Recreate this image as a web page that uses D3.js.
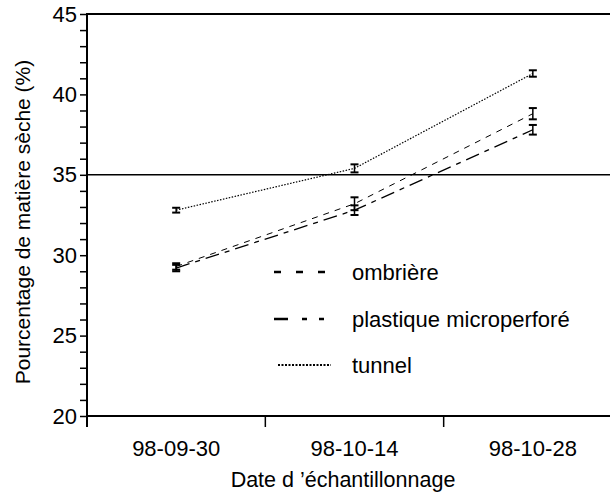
<!DOCTYPE html>
<html><head><meta charset="utf-8">
<script src="https://cdn.jsdelivr.net/npm/d3@7"></script>
<style>body{margin:0;background:#fff}svg{display:block}text{font-family:"Liberation Sans",Arial,sans-serif;fill:#000}</style>
</head><body><svg id="c" width="610" height="493"></svg>
<script>
const dates = ["98-09-30","98-10-14","98-10-28"];
const seriesNames = ["ombrière","plastique microperforé","tunnel"];
const ombriere = [29.3, 33.2, 38.8];
const ombriereErr = [0.2, 0.4, 0.35];
const plastique = [29.2, 32.8, 37.8];
const plastiqueErr = [0.2, 0.3, 0.3];
const tunnel = [32.8, 35.4, 41.3];
const tunnelErr = [0.15, 0.25, 0.2];
const yTicks = [20,25,30,35,40,45];
const refValue = 35;

const svg = d3.select("#c");
const L=87, R=622, T=14, B=416;
const x = d3.scaleBand().domain(dates).range([L,R]);
const y = d3.scaleLinear().domain([20,45]).range([B,T]);
const cx = d => x(d)+x.bandwidth()/2;

svg.append("line").attr("x1",L).attr("x2",610).attr("y1",T).attr("y2",T).attr("stroke","#000").attr("stroke-width",2);
svg.append("line").attr("x1",L).attr("x2",610).attr("y1",y(refValue)).attr("y2",y(refValue)).attr("stroke","#000").attr("stroke-width",1.5);

const yAxis = d3.axisLeft(y).tickValues(d3.range(20,46,1)).tickSize(7).tickFormat(d=>yTicks.includes(d)?d:"");
const gy = svg.append("g").attr("transform",`translate(${L},0)`).call(yAxis);
gy.select(".domain").remove();
gy.selectAll(".tick line").attr("stroke","#000").attr("stroke-width",1.5);
gy.selectAll(".tick text").attr("font-size",22).attr("x",-10);
svg.append("line").attr("x1",L).attr("x2",L).attr("y1",T-1).attr("y2",B+11).attr("stroke","#000").attr("stroke-width",2);

const gx = svg.append("g").attr("transform",`translate(0,${B})`).call(d3.axisBottom(x).tickSize(0).tickPadding(24));
gx.select(".domain").remove();
gx.selectAll(".tick text").attr("font-size",22);
svg.append("line").attr("x1",L).attr("x2",610).attr("y1",B).attr("y2",B).attr("stroke","#000").attr("stroke-width",2);
svg.selectAll(".xb").data(dates.slice(1)).enter().append("line")
  .attr("x1",d=>x(d)).attr("x2",d=>x(d)).attr("y1",B).attr("y2",B+11).attr("stroke","#000").attr("stroke-width",1.5);

svg.append("text").attr("x",343).attr("y",487).attr("text-anchor","middle").attr("font-size",21.5).text("Date d ’échantillonnage");
svg.append("text").attr("transform",`translate(30,222) rotate(-90)`).attr("text-anchor","middle").attr("font-size",21).text("Pourcentage de matière sèche (%)");

const series = [
  {name:seriesNames[0], v:ombriere, e:ombriereErr, dash:"6,6", w:1},
  {name:seriesNames[1], v:plastique, e:plastiqueErr, dash:"14,6,5,6", w:1.3},
  {name:seriesNames[2], v:tunnel, e:tunnelErr, dash:"1.5,1.5", w:1.2}
];
const line = d3.line().x((d,i)=>cx(dates[i])).y(d=>y(d));
series.forEach(s=>{
  svg.append("path").datum(s.v).attr("d",line).attr("fill","none").attr("stroke","#000")
    .attr("stroke-width",s.w).attr("stroke-dasharray",s.dash);
  const g = svg.append("g");
  s.v.forEach((v,i)=>{
    const xc=cx(dates[i]);
    g.append("line").attr("x1",xc).attr("x2",xc).attr("y1",y(v-s.e[i])).attr("y2",y(v+s.e[i])).attr("stroke","#000").attr("stroke-width",1.5);
    [v-s.e[i], v+s.e[i]].forEach(b=>g.append("line").attr("x1",xc-4).attr("x2",xc+4).attr("y1",y(b)).attr("y2",y(b)).attr("stroke","#000").attr("stroke-width",2));
  });
});

const ly=[272,319,365];
const ldash=["7,15","14,14,5,12,5,100","2,1.5"];
const lx2=[326,324,331];
series.forEach((s,i)=>{
  svg.append("line").attr("x1",i==2?278:274).attr("x2",lx2[i]).attr("y1",ly[i]).attr("y2",ly[i]).attr("stroke","#000")
    .attr("stroke-width",i==2?2:2.5).attr("stroke-dasharray", ldash[i]);
  svg.append("text").attr("x",352).attr("y",ly[i]+8).attr("font-size",22).text(s.name);
});
</script></body></html>
